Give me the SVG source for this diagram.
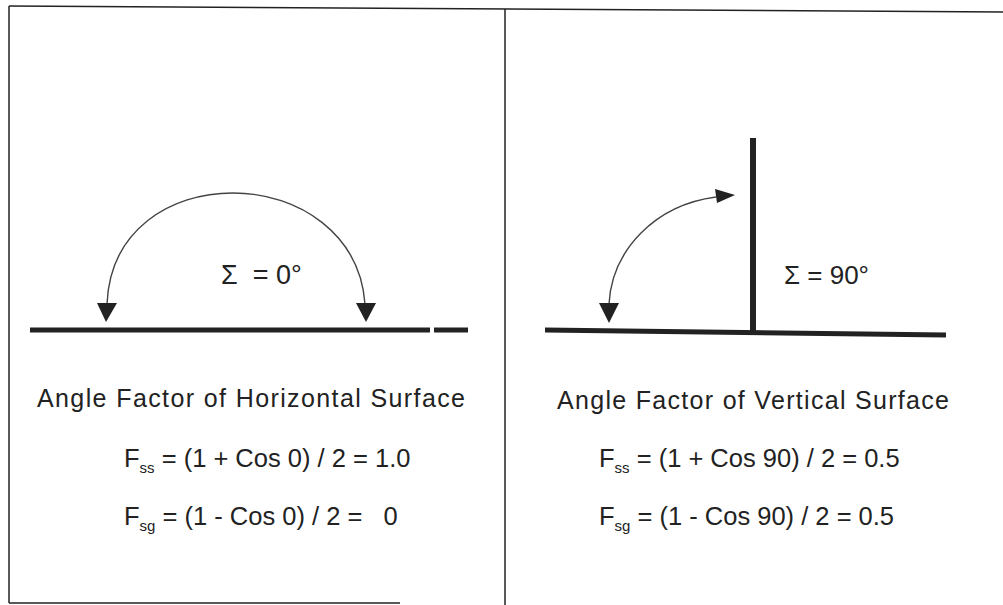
<svg xmlns="http://www.w3.org/2000/svg" width="1003" height="605" viewBox="0 0 1003 605">
<defs>
<style>
.t{font-family:"Liberation Sans",Arial,sans-serif;fill:#222;font-size:25px}
.f{font-size:25.5px}
.sub{font-size:15px}
.frame{stroke:#222;stroke-width:1.5;fill:none}
.ground{stroke:#222;stroke-width:5;fill:none}
.arc{stroke:#444;stroke-width:1.4;fill:none}
.head{fill:#222}
</style>
</defs>
<g id="frame">
<line class="frame" x1="9" y1="6" x2="1003" y2="12"/>
<line class="frame" x1="9" y1="6" x2="9" y2="603"/>
<line class="frame" x1="9" y1="603" x2="400" y2="603"/>
<line class="frame" x1="505" y1="9" x2="505" y2="605"/>
</g>
<g id="horizontal-surface">
<line class="ground" x1="30" y1="330" x2="430" y2="330"/>
<line class="ground" x1="434" y1="330" x2="468" y2="330"/>
</g>
<g id="vertical-surface">
<line class="ground" x1="545" y1="330" x2="946" y2="335"/>
<line class="ground" x1="753" y1="138" x2="753" y2="332" style="stroke-width:6"/>
</g>
<g id="connectors">
<path class="arc" d="M107,304 C110,230 170,193 233,193 C300,193 360,235 365,304"/>
<polygon class="head" points="97,303 117,303 106,322"/>
<polygon class="head" points="356,303 376,303 366,322"/>
<path class="arc" d="M609,304 C612,250 655,205 716,197"/>
<polygon class="head" points="599,303 619,303 609,323"/>
<polygon class="head" points="715,189 735,195 717,203"/>
</g>
<g id="label-left">
<text class="t" x="221" y="284" style="font-size:27px" xml:space="preserve">Σ  = 0°</text>
<text class="t" x="37" y="407" textLength="428" lengthAdjust="spacing">Angle Factor of Horizontal Surface</text>
<text class="t f" x="124" y="467">F<tspan class="sub" dy="6">ss</tspan><tspan dy="-6"> = (1 + Cos 0) / 2 = 1.0</tspan></text>
<text class="t f" x="124" y="525" xml:space="preserve">F<tspan class="sub" dy="6">sg</tspan><tspan dy="-6"> = (1 - Cos 0) / 2 =   0</tspan></text>
</g>
<g id="label-right">
<text class="t" x="784" y="284" style="font-size:26px">Σ = 90°</text>
<text class="t" x="557" y="409" textLength="392" lengthAdjust="spacing">Angle Factor of Vertical Surface</text>
<text class="t f" x="599" y="467">F<tspan class="sub" dy="6">ss</tspan><tspan dy="-6"> = (1 + Cos 90) / 2 = 0.5</tspan></text>
<text class="t f" x="599" y="525">F<tspan class="sub" dy="6">sg</tspan><tspan dy="-6"> = (1 - Cos 90) / 2 = 0.5</tspan></text>
</g>
</svg>
